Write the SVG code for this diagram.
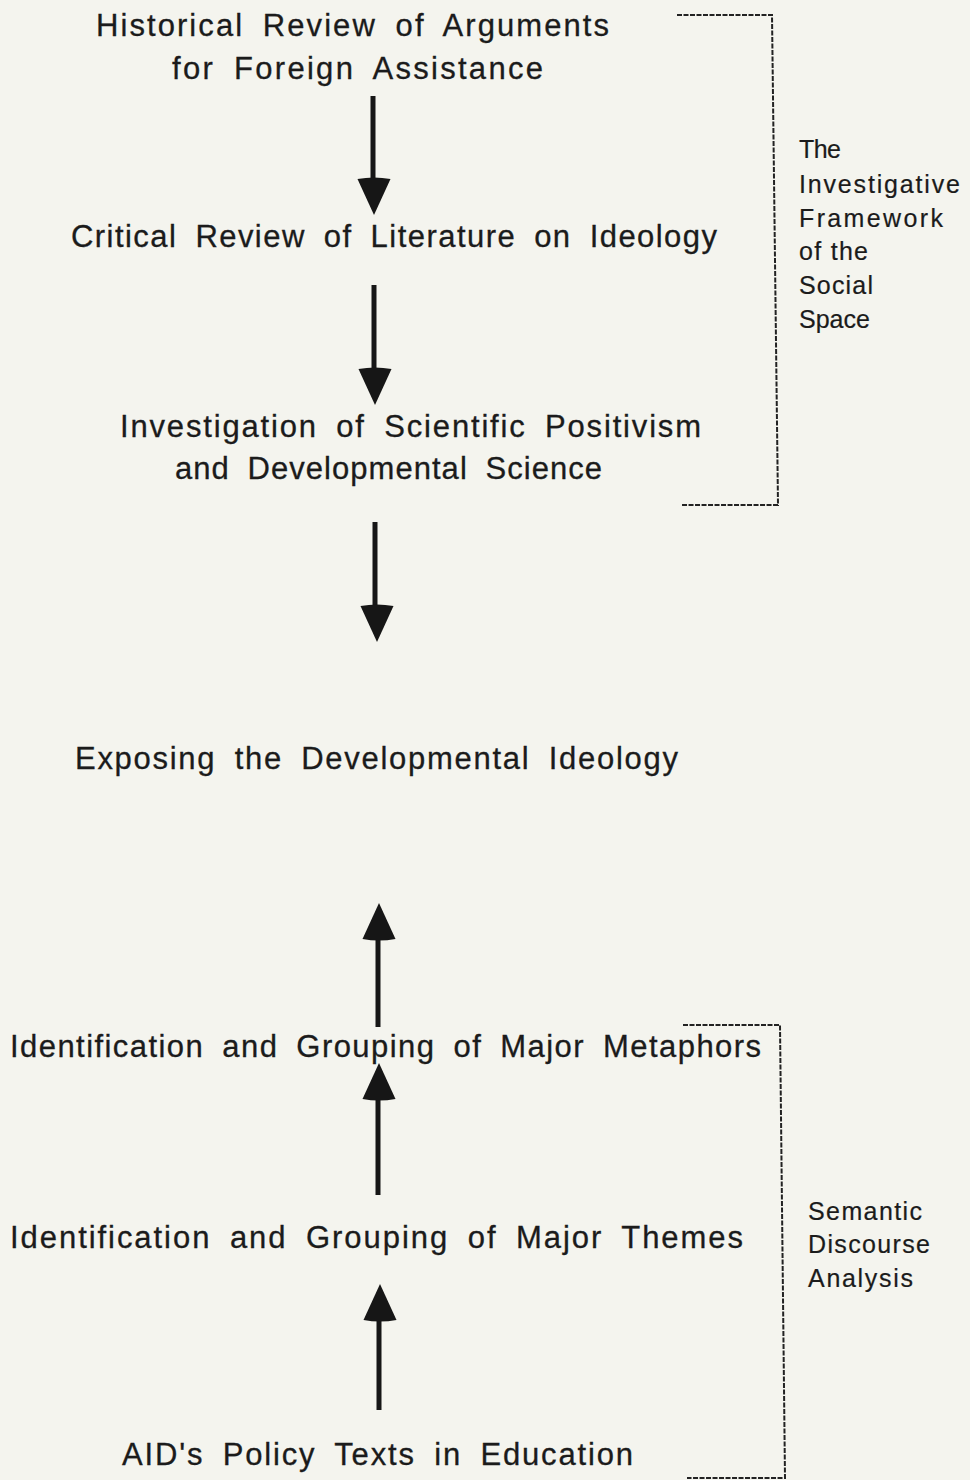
<svg xmlns="http://www.w3.org/2000/svg" xmlns:xlink="http://www.w3.org/1999/xlink" width="970" height="1480" viewBox="0 0 970 1480">
  <style>
    .step { font-family: "Liberation Sans", Arial, Helvetica, sans-serif; font-size: 31px; word-spacing: 8px; fill: #1b1b1b; stroke: #1b1b1b; stroke-width: 0.3; }
    .side { font-family: "Liberation Sans", Arial, Helvetica, sans-serif; font-size: 25px; fill: #1b1b1b; stroke: #1b1b1b; stroke-width: 0.2; }
    .shaft { stroke: #161616; stroke-width: 5; fill: none; }
    .head { fill: #161616; }
    .brace { stroke: #222; stroke-width: 2; fill: none; stroke-dasharray: 5 1.5; }
  </style>
  <defs>
    <!-- arrowhead with its tip at the origin, pointing down -->
    <path id="headDown" class="head" d="M0,0 L-16.5,-36 Q0,-39 16.5,-36 Z"/>
  </defs>

  <rect x="0" y="0" width="970" height="1480" fill="#f4f4ee"/>

  <!-- flow steps -->
  <g id="historical-review">
    <text class="step" x="96" y="36" textLength="513" lengthAdjust="spacing">Historical Review of Arguments</text>
    <text class="step" x="172" y="79" textLength="371" lengthAdjust="spacing">for Foreign Assistance</text>
  </g>
  <g id="critical-review">
    <text class="step" x="71" y="247" textLength="646" lengthAdjust="spacing">Critical Review of Literature on Ideology</text>
  </g>
  <g id="investigation">
    <text class="step" x="120" y="437" textLength="581" lengthAdjust="spacing">Investigation of Scientific Positivism</text>
    <text class="step" x="175" y="479" textLength="427" lengthAdjust="spacing">and Developmental Science</text>
  </g>
  <g id="exposing">
    <text class="step" x="75" y="769" textLength="603" lengthAdjust="spacing">Exposing the Developmental Ideology</text>
  </g>
  <g id="metaphors">
    <text class="step" x="10" y="1057" textLength="751" lengthAdjust="spacing">Identification and Grouping of Major Metaphors</text>
  </g>
  <g id="themes">
    <text class="step" x="10" y="1248" textLength="733" lengthAdjust="spacing">Identification and Grouping of Major Themes</text>
  </g>
  <g id="policy-texts">
    <text class="step" x="122" y="1465" textLength="511" lengthAdjust="spacing">AID's Policy Texts in Education</text>
  </g>

  <!-- bracket labels -->
  <g id="framework-label">
    <path class="brace" d="M677,15 L772,15 L778,505 L682,505"/>
    <text class="side" x="799" y="158" textLength="42" lengthAdjust="spacing">The</text>
    <text class="side" x="799" y="193" textLength="161" lengthAdjust="spacing">Investigative</text>
    <text class="side" x="799" y="227" textLength="144" lengthAdjust="spacing">Framework</text>
    <text class="side" x="799" y="260" textLength="69" lengthAdjust="spacing">of the</text>
    <text class="side" x="799" y="294" textLength="74" lengthAdjust="spacing">Social</text>
    <text class="side" x="799" y="328">Space</text>
  </g>
  <g id="discourse-label">
    <path class="brace" d="M683,1025 L780,1025 L785,1478 L687,1478"/>
    <text class="side" x="808" y="1220" textLength="114" lengthAdjust="spacing">Semantic</text>
    <text class="side" x="808" y="1253" textLength="122" lengthAdjust="spacing">Discourse</text>
    <text class="side" x="808" y="1287" textLength="105" lengthAdjust="spacing">Analysis</text>
  </g>

  <!-- connectors -->
  <g id="connectors">
    <line class="shaft" x1="373" y1="96" x2="373" y2="182"/>
    <use xlink:href="#headDown" transform="translate(374,215)"/>

    <line class="shaft" x1="374" y1="285" x2="374" y2="372"/>
    <use xlink:href="#headDown" transform="translate(375,405)"/>

    <line class="shaft" x1="375" y1="522" x2="375" y2="610"/>
    <use xlink:href="#headDown" transform="translate(377,642)"/>

    <line class="shaft" x1="378" y1="938" x2="378" y2="1027"/>
    <use xlink:href="#headDown" transform="translate(379,903) rotate(180)"/>

    <line class="shaft" x1="378" y1="1100" x2="378" y2="1195"/>
    <use xlink:href="#headDown" transform="translate(379,1063) rotate(180)"/>

    <line class="shaft" x1="379" y1="1320" x2="379" y2="1410"/>
    <use xlink:href="#headDown" transform="translate(380,1284) rotate(180)"/>
  </g>
</svg>
